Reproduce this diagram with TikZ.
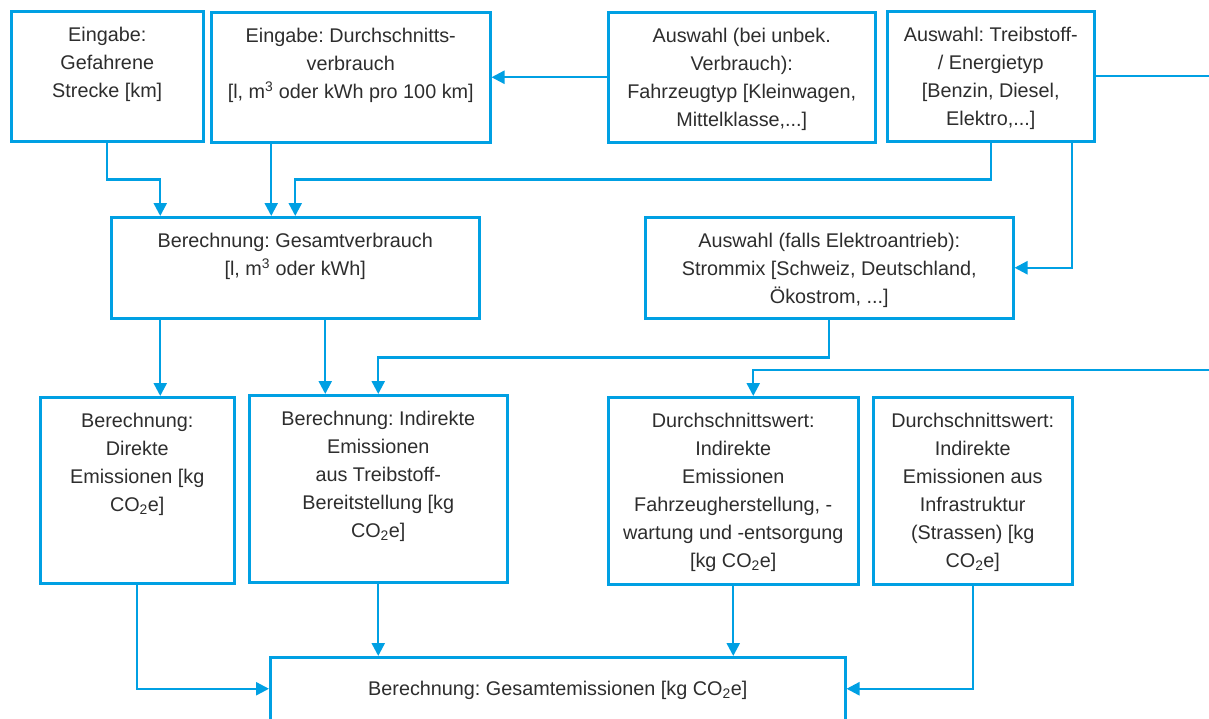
\documentclass[tikz,border=0pt]{standalone}
\usepackage{fontspec}
\setmainfont{Liberation Sans}
\usetikzlibrary{arrows.meta}
\definecolor{blau}{RGB}{0,160,227}
\definecolor{grau}{RGB}{45,45,45}
\frenchspacing
\tikzset{
  kasten/.style={draw=blau,line width=2.5pt,inner sep=0pt,anchor=north west},
  txt/.style={anchor=north,yshift=-17pt,inner sep=0pt,align=center,text=grau,font=\fontsize{19.8}{28}\selectfont},
  pfeil/.style={draw=blau,line width=2.4pt,-{Triangle[length=13pt,width=13pt]}},
}
\begin{document}
\begin{tikzpicture}[x=1pt,y=-1pt]
\useasboundingbox (0,0) rectangle (1209,718);
\clip (0,0) rectangle (1209,718);
\node[kasten,minimum width=192,minimum height=130,label={[txt]north:{Eingabe:\\Gefahrene\\Strecke [km]}}] (S) at (10,10) {};
\node[kasten,minimum width=279,minimum height=130,label={[txt]north:{Eingabe: Durchschnitts-\\verbrauch\\{}[l, m\textsuperscript{3} oder kWh pro 100 km]}}] (V) at (210,11) {};
\node[kasten,minimum width=267,minimum height=130,label={[txt]north:{Auswahl (bei unbek.\\Verbrauch):\\Fahrzeugtyp [Kleinwagen,\\Mittelklasse,...]}}] (F) at (607,11) {};
\node[kasten,minimum width=207,minimum height=130,label={[txt]north:{Auswahl: Treibstoff-\\/ Energietyp\\{}[Benzin, Diesel,\\Elektro,...]}}] (T) at (886,10) {};
\node[kasten,minimum width=368,minimum height=101,label={[txt]north:{Berechnung: Gesamtverbrauch\\{}[l, m\textsuperscript{3} oder kWh]}}] (GV) at (110,216) {};
\node[kasten,minimum width=368,minimum height=101,label={[txt]north:{Auswahl (falls Elektroantrieb):\\Strommix [Schweiz, Deutschland,\\Ökostrom, ...]}}] (M) at (644,216) {};
\node[kasten,minimum width=194,minimum height=186,label={[txt]north:{Berechnung:\\Direkte\\Emissionen [kg\\CO\textsubscript{2}e]}}] (D) at (39,396) {};
\node[kasten,minimum width=258,minimum height=187,label={[txt]north:{Berechnung: Indirekte\\Emissionen\\aus Treibstoff-\\Bereitstellung [kg\\CO\textsubscript{2}e]}}] (I) at (248,394) {};
\node[kasten,minimum width=250,minimum height=187,label={[txt]north:{Durchschnittswert:\\Indirekte\\Emissionen\\Fahrzeugherstellung, -\\wartung und -entsorgung\\{}[kg CO\textsubscript{2}e]}}] (H) at (607,396) {};
\node[kasten,minimum width=199,minimum height=187,label={[txt]north:{Durchschnittswert:\\Indirekte\\Emissionen aus\\Infrastruktur\\(Strassen) [kg\\CO\textsubscript{2}e]}}] (R) at (872,396) {};
\node[kasten,minimum width=575,minimum height=63,label={[txt,yshift=-8pt]north:{Berechnung: Gesamtemissionen [kg CO\textsubscript{2}e]}}] (GE) at (269,656) {};
\draw[pfeil] (S.south) -- ++(0,37) -| ([xshift=-135pt]GV.north);
\draw[pfeil] ([xshift=-79.5pt]V.south) -- ([xshift=-24pt]GV.north);
\draw[pfeil] (F.west) -- (V.east);
\draw[pfeil] (T.south) -- ++(0,37) -| (GV.north);
\draw[pfeil] ([xshift=81.5pt]T.south) |- (M.east);
\draw[pfeil] (T.east) -- ++(140,0) -- ++(0,294) -| ([xshift=20pt]H.north);
\draw[pfeil] ([xshift=-135pt]GV.south) -- ([xshift=23pt]D.north);
\draw[pfeil] ([xshift=30pt]GV.south) -- ([xshift=-53pt]I.north);
\draw[pfeil] (M.south) -- ++(0,38) -| (I.north);
\draw[pfeil] (D.south) |- (GE.west);
\draw[pfeil] (I.south) -- ([xshift=-179.5pt]GE.north);
\draw[pfeil] (H.south) -- ([xshift=175.5pt]GE.north);
\draw[pfeil] (R.south) |- (GE.east);
\end{tikzpicture}
\end{document}
